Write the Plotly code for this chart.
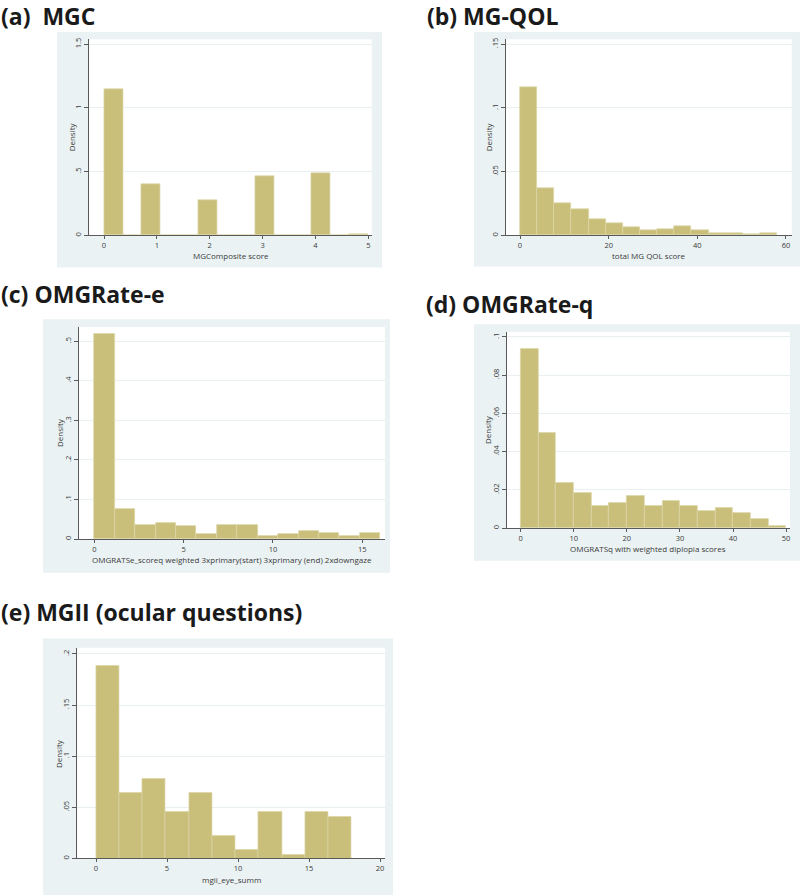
import plotly.graph_objects as go

W, H = 800, 895

# ---------------- data (densities per histogram bin) ----------------
a_bin_start, a_bin_end = 0, 5
a_density = [1.15, 0, 0.40, 0, 0, 0.279, 0, 0, 0.463, 0, 0, 0.49, 0, 0.013]

b_bin_start, b_bin_end = 0, 58
b_density = [0.1166, 0.0373, 0.0256, 0.0203, 0.0130, 0.0097, 0.0063, 0.0042,
             0.0052, 0.0073, 0.0044, 0.0021, 0.0021, 0.0010, 0.0021]

c_bin_start, c_bin_end = 0, 16
c_density = [0.519, 0.0773, 0.0361, 0.0403, 0.0328, 0.0118, 0.0361, 0.0361,
             0.0076, 0.0118, 0.0210, 0.0160, 0.0076, 0.0160]

d_bin_start, d_bin_end = 0, 50
d_density = [0.0939, 0.0497, 0.0235, 0.0183, 0.0117, 0.0130, 0.0169, 0.0117,
             0.0144, 0.0117, 0.0090, 0.0104, 0.0078, 0.0050, 0.0012]

e_bin_start, e_bin_end = 0, 18
e_density = [0.1886, 0.0641, 0.0780, 0.0455, 0.0641, 0.0224, 0.0085, 0.0455,
             0.0039, 0.0455, 0.0410]

panel_titles = ["(a)&nbsp; MGC", "(b) MG-QOL", "(c) OMGRate-e", "(d) OMGRate-q",
                "(e) MGII (ocular questions)"]
x_titles = ["MGComposite score", "total MG QOL score",
            "OMGRATSe_scoreq weighted 3xprimary(start) 3xprimary (end) 2xdowngaze",
            "OMGRATSq with weighted diplopia scores", "mgii_eye_summ"]
y_title = "Density"

a_xticks = [0, 1, 2, 3, 4, 5]
b_xticks = [0, 20, 40, 60]
c_xticks = [0, 5, 10, 15]
d_xticks = [0, 10, 20, 30, 40, 50]
e_xticks = [0, 5, 10, 15, 20]

a_yticks = [0, 0.5, 1, 1.5]
a_ylabels = ["0", ".5", "1", "1.5"]
b_yticks = [0, 0.05, 0.1, 0.15]
b_ylabels = ["0", ".05", ".1", ".15"]
c_yticks = [0, 0.1, 0.2, 0.3, 0.4, 0.5]
c_ylabels = ["0", ".1", ".2", ".3", ".4", ".5"]
d_yticks = [0, 0.02, 0.04, 0.06, 0.08, 0.1]
d_ylabels = ["0", ".02", ".04", ".06", ".08", ".1"]
e_yticks = [0, 0.05, 0.1, 0.15, 0.2]
e_ylabels = ["0", ".05", ".1", ".15", ".2"]

# ---------------- layout geometry (pixels) ----------------
# box: outer light-blue region; plot: white plot region (L, R, T, B)
panels = [
    dict(dens=a_density, start=a_bin_start, end=a_bin_end, xt=a_xticks, yt=a_yticks, yl=a_ylabels,
         box=(57, 382, 31, 267), plot=(89.3, 371.7, 38.3, 235), xr=(-0.278, 5.063), yr=(0, 1.539),
         title=(0, 15), xtitle_y=255, ytitle_x=71),
    dict(dens=b_density, start=b_bin_start, end=b_bin_end, xt=b_xticks, yt=b_yticks, yl=b_ylabels,
         box=(474, 800, 31, 266), plot=(506, 791.7, 38.3, 235), xr=(-3.16, 61.29), yr=(0, 0.1539),
         title=(426, 15), xtitle_y=255, ytitle_x=488),
    dict(dens=c_density, start=c_bin_start, end=c_bin_end, xt=c_xticks, yt=c_yticks, yl=c_ylabels,
         box=(43, 390, 319, 573), plot=(79, 385, 326.7, 539.3), xr=(-0.856, 16.27), yr=(0, 0.536),
         title=(0, 293.5), xtitle_y=559.5, ytitle_x=59),
    dict(dens=d_density, start=d_bin_start, end=d_bin_end, xt=d_xticks, yt=d_yticks, yl=d_ylabels,
         box=(474, 800, 324, 561), plot=(506.7, 790, 331.7, 528.3), xr=(-2.64, 50.74), yr=(0, 0.1026),
         title=(425, 303.5), xtitle_y=548.5, ytitle_x=487),
    dict(dens=e_density, start=e_bin_start, end=e_bin_end, xt=e_xticks, yt=e_yticks, yl=e_ylabels,
         box=(43, 393, 639, 900), plot=(77.3, 385, 648.3, 859.3), xr=(-1.317, 20.35), yr=(0, 0.2059),
         title=(0, 612.5), xtitle_y=880.5, ytitle_x=58),
]

BOX_BG = "#eaf2f3"
BAR = "#c9bf7b"
BAR_LINE = "#dcd5a6"
AXIS = "#5a5a5a"
GRID = "#e8f0f1"
TXT = "#3a3a3a"
FONT = "Open Sans"

def px(x):
    return x / W

def py(y):
    return 1 - y / H

fig = go.Figure()
shapes = []
annotations = []

for i, p in enumerate(panels):
    n = len(p["dens"])
    bw = (p["end"] - p["start"]) / n
    centers = [p["start"] + bw * (k + 0.5) for k in range(n)]
    xa = "x" if i == 0 else f"x{i+1}"
    ya = "y" if i == 0 else f"y{i+1}"
    fig.add_trace(go.Bar(x=centers, y=p["dens"], width=[bw] * n, xaxis=xa, yaxis=ya,
                         marker=dict(color=BAR, line=dict(color=BAR_LINE, width=0.7)),
                         showlegend=False, hoverinfo="x+y"))
    L, R, T, B = p["plot"]
    bL, bR, bT, bB = p["box"]
    shapes.append(dict(type="rect", xref="paper", yref="paper", x0=px(bL), x1=px(bR),
                       y0=py(bB), y1=py(bT), fillcolor=BOX_BG, line=dict(width=0), layer="below"))
    shapes.append(dict(type="rect", xref="paper", yref="paper", x0=px(L), x1=px(R),
                       y0=py(B), y1=py(T), fillcolor="white", line=dict(width=0), layer="below"))
    key = "" if i == 0 else str(i + 1)
    fig.layout["xaxis" + key] = dict(
        domain=[px(L), px(R)], range=list(p["xr"]), anchor=ya,
        showline=True, linecolor=AXIS, linewidth=1, ticks="outside", ticklen=3,
        tickcolor=AXIS, tickwidth=1, tickvals=p["xt"], ticktext=[str(v) for v in p["xt"]],
        showgrid=False, zeroline=False, tickfont=dict(family=FONT, size=7.5, color=TXT),
        fixedrange=True)
    fig.layout["yaxis" + key] = dict(
        domain=[py(B), py(T)], range=list(p["yr"]), anchor=xa,
        showline=True, linecolor=AXIS, linewidth=1, ticks="outside", ticklen=4,
        tickcolor=AXIS, tickwidth=1, tickvals=p["yt"], ticktext=p["yl"], tickangle=-90,
        showgrid=True, gridcolor=GRID, gridwidth=1, zeroline=False,
        tickfont=dict(family=FONT, size=7.5, color=TXT), fixedrange=True)
    # panel title
    tx, ty = p["title"]
    annotations.append(dict(text="<b>" + panel_titles[i] + "</b>", xref="paper", yref="paper",
                            x=px(tx), y=py(ty), xanchor="left", yanchor="middle", showarrow=False,
                            borderpad=0, font=dict(family=FONT, size=23, color="#1a1a1a")))
    # x title
    annotations.append(dict(text=x_titles[i], xref="paper", yref="paper",
                            x=px((L + R) / 2), y=py(p["xtitle_y"]), xanchor="center",
                            yanchor="middle", showarrow=False,
                            font=dict(family=FONT, size=8, color=TXT)))
    # y title
    annotations.append(dict(text=y_title, xref="paper", yref="paper",
                            x=px(p["ytitle_x"]), y=py((T + B) / 2), xanchor="center",
                            yanchor="middle", textangle=-90, showarrow=False,
                            font=dict(family=FONT, size=8, color=TXT)))

fig.update_layout(width=W, height=H, margin=dict(l=0, r=0, t=0, b=0),
                  paper_bgcolor="white", plot_bgcolor="rgba(0,0,0,0)",
                  shapes=shapes, annotations=annotations, bargap=0)

fig.write_html("out.html", config={"displayModeBar": False},
               post_script="document.body.style.margin='0';document.body.style.overflow='hidden';")
